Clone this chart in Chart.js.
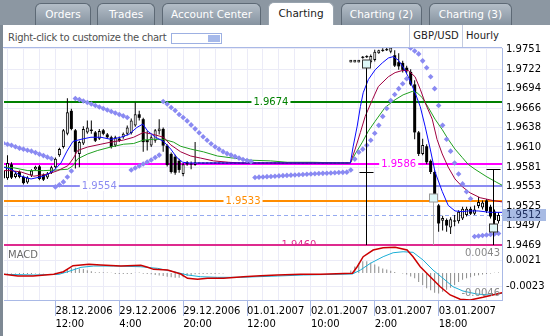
<!DOCTYPE html>
<html>
<head>
<meta charset="utf-8">
<title>GBP/USD Hourly</title>
<script src="https://cdn.jsdelivr.net/npm/chart.js@4.4.1/dist/chart.umd.min.js"></script>
<style>
  html, body { margin: 0; padding: 0; }
  body { width: 550px; height: 336px; position: relative; overflow: hidden; background: #fff;
         font-family: "DejaVu Sans", sans-serif; font-size: 10px; }
  #tabs { position: absolute; left: 0; top: 0; width: 550px; height: 25px; background: #8c97a2; }
  .tab { position: absolute; top: 3px; height: 22px; box-sizing: border-box; border: 1px solid #5d6975;
         border-bottom: none; border-radius: 6px 6px 0 0; background: linear-gradient(#b3bdc7, #8693a0);
         color: #fff; text-align: center; line-height: 21px; font-size: 10.5px; }
  .tab.on { top: 2px; height: 24px; background: #fff; color: #1a1a1a; border-color: #98a3ae; }
  #frame { position: absolute; left: 0; top: 25px; width: 3px; height: 311px; background: #7e8994; z-index: 3; }
  #tool { position: absolute; left: 3px; top: 25px; width: 499px; height: 23px; box-sizing: border-box;
          border-bottom: 1px solid #aab9e6; background: #fff; z-index: 2; }
  #hint { position: absolute; left: 5px; top: 7px; color: #505050; letter-spacing: -0.3px; }
  #swatch { position: absolute; left: 168px; top: 8px; width: 51px; height: 11px; box-sizing: border-box;
            border: 1px solid #9db0e2; background: #fff; }
  #swatch div { position: absolute; right: 1px; top: 1px; width: 12px; height: 7px; background: #a6b9ea; }
  .cell { position: absolute; top: 0; height: 22px; box-sizing: border-box; border-left: 1px solid #c4cce0;
          line-height: 22px; text-align: center; color: #222; }
  canvas { position: absolute; left: 0; top: 25px; }
</style>
</head>
<body>
<div id="tabs">
  <div class="tab" style="left:35px;width:56px">Orders</div>
  <div class="tab" style="left:97px;width:58px">Trades</div>
  <div class="tab" style="left:162px;width:99px">Account Center</div>
  <div class="tab on" style="left:268px;width:66px">Charting</div>
  <div class="tab" style="left:341px;width:81px">Charting (2)</div>
  <div class="tab" style="left:429px;width:83px">Charting (3)</div>
</div>
<div id="frame"></div>
<div id="tool">
  <span id="hint">Right-click to customize the chart</span>
  <div id="swatch"><div></div></div>
  <div class="cell" style="left:406px;width:53px">GBP/USD</div>
  <div class="cell" style="left:459px;width:40px">Hourly</div>
</div>
<canvas id="chart" width="550" height="311"></canvas>
<script>
// hourly candles (bar index 0..124)
const opens = [
  1.9576,1.9565,1.9585,1.9567,1.9574,1.9567,1.9559,1.9569,1.9578,1.9582,
  1.9570,1.9566,1.9573,1.9581,1.9598,1.9610,1.9629,1.9662,1.9634,1.9600,
  1.9615,1.9631,1.9635,1.9631,1.9622,1.9634,1.9628,1.9624,1.9612,1.9622,
  1.9624,1.9629,1.9630,1.9641,1.9657,1.9650,1.9620,1.9612,1.9619,1.9633,
  1.9636,1.9612,1.9600,1.9596,1.9590,1.9571,1.9588,1.9586,1.9585,
  1.9587,1.9587,1.9587,1.9587,1.9587,1.9587,1.9587,1.9587,1.9587,1.9587,
  1.9587,1.9587,1.9587,1.9587,1.9587,1.9587,1.9587,1.9587,1.9587,1.9587,
  1.9587,1.9587,1.9587,1.9587,1.9587,1.9587,1.9587,1.9587,1.9587,1.9587,
  1.9587,1.9587,1.9587,1.9587,1.9587,1.9587,1.9587,1.9587,
  1.9733,1.9733,1.9733,1.9739,1.9740,1.9732,1.9735,1.9746,1.9749,1.9750,
  1.9747,1.9742,1.9732,1.9731,1.9724,1.9718,1.9700,1.9631,1.9600,1.9611,
  1.9590,1.9574,1.9526,1.9504,1.9505,1.9494,1.9504,1.9503,1.9507,1.9512,
  1.9521,1.9514,1.9525,1.9523,1.9533,1.9524,1.9517,1.9503
];
const highs = [
  1.9578,1.9598,1.9588,1.9575,1.9576,1.9569,1.9568,1.9578,1.9583,1.9584,
  1.9572,1.9574,1.9583,1.9595,1.9609,1.9636,1.9680,1.9665,1.9636,1.9619,
  1.9640,1.9648,1.9648,1.9633,1.9636,1.9636,1.9630,1.9626,1.9626,1.9625,
  1.9631,1.9641,1.9651,1.9674,1.9662,1.9652,1.9633,1.9627,1.9636,1.9650,
  1.9638,1.9614,1.9602,1.9599,1.9593,1.9587,1.9590,1.9589,1.9617,
  1.9587,1.9587,1.9587,1.9587,1.9587,1.9587,1.9587,1.9587,1.9587,1.9587,
  1.9587,1.9587,1.9587,1.9587,1.9587,1.9587,1.9587,1.9587,1.9587,1.9587,
  1.9587,1.9587,1.9587,1.9587,1.9587,1.9587,1.9587,1.9587,1.9587,1.9587,
  1.9587,1.9587,1.9587,1.9587,1.9587,1.9587,1.9587,1.9587,
  1.9735,1.9735,1.9735,1.9741,1.9742,1.9743,1.9750,1.9750,1.9752,1.9753,
  1.9756,1.9749,1.9745,1.9734,1.9727,1.9722,1.9706,1.9633,1.9622,1.9614,
  1.9592,1.9576,1.9528,1.9511,1.9507,1.9509,1.9512,1.9519,1.9524,1.9524,
  1.9524,1.9526,1.9538,1.9533,1.9535,1.9527,1.9520,1.9516
];
const lows = [
  1.9563,1.9563,1.9564,1.9565,1.9565,1.9556,1.9557,1.9567,1.9576,1.9562,
  1.9561,1.9564,1.9571,1.9579,1.9596,1.9608,1.9627,1.9634,1.9579,1.9581,
  1.9613,1.9629,1.9629,1.9617,1.9620,1.9627,1.9622,1.9608,1.9610,1.9617,
  1.9622,1.9627,1.9628,1.9639,1.9648,1.9603,1.9605,1.9610,1.9616,1.9628,
  1.9603,1.9582,1.9572,1.9570,1.9573,1.9568,1.9583,1.9578,1.9583,
  1.9587,1.9587,1.9587,1.9587,1.9587,1.9587,1.9587,1.9587,1.9587,1.9587,
  1.9587,1.9587,1.9587,1.9587,1.9587,1.9587,1.9587,1.9587,1.9587,1.9587,
  1.9587,1.9587,1.9587,1.9587,1.9587,1.9587,1.9587,1.9587,1.9587,1.9587,
  1.9587,1.9587,1.9587,1.9587,1.9587,1.9587,1.9587,1.9587,
  1.9732,1.9732,1.9732,1.9737,1.9738,1.9730,1.9733,1.9744,1.9747,1.9748,
  1.9745,1.9725,1.9721,1.9717,1.9716,1.9698,1.9621,1.9597,1.9598,1.9585,
  1.9571,1.9538,1.9488,1.9490,1.9488,1.9485,1.9496,1.9500,1.9505,1.9510,
  1.9512,1.9512,1.9522,1.9520,1.9515,1.9507,1.9498,1.9500
];
const closes = [
  1.9565,1.9587,1.9566,1.9572,1.9567,1.9558,1.9566,1.9576,1.9581,1.9564,
  1.9563,1.9572,1.9581,1.9593,1.9607,1.9634,1.9660,1.9636,1.9603,1.9617,
  1.9636,1.9638,1.9633,1.9619,1.9633,1.9629,1.9624,1.9610,1.9624,1.9619,
  1.9629,1.9638,1.9648,1.9657,1.9652,1.9617,1.9617,1.9624,1.9634,1.9636,
  1.9612,1.9584,1.9574,1.9573,1.9577,1.9585,1.9585,1.9585,1.9587,
  1.9587,1.9587,1.9587,1.9587,1.9587,1.9587,1.9587,1.9587,1.9587,1.9587,
  1.9587,1.9587,1.9587,1.9587,1.9587,1.9587,1.9587,1.9587,1.9587,1.9587,
  1.9587,1.9587,1.9587,1.9587,1.9587,1.9587,1.9587,1.9587,1.9587,1.9587,
  1.9587,1.9587,1.9587,1.9587,1.9587,1.9587,1.9587,1.9587,
  1.9734,1.9734,1.9734,1.9739,1.9740,1.9741,1.9747,1.9748,1.9749,1.9750,
  1.9753,1.9727,1.9726,1.9721,1.9719,1.9700,1.9631,1.9600,1.9613,1.9588,
  1.9574,1.9540,1.9500,1.9508,1.9497,1.9506,1.9503,1.9517,1.9521,1.9521,
  1.9514,1.9520,1.9531,1.9530,1.9518,1.9510,1.9505,1.9512
];

// parabolic SAR, one dot per bar
const sar = [
  1.96154,1.96140,1.96126,1.96104,1.96083,1.96069,1.96054,1.96040,1.96019,1.95997,1.95976,1.95954,1.95933,
  1.95526,1.95555,1.95598,1.95669,1.95755,
  1.96797,1.96782,1.96761,1.96739,1.96718,1.96697,1.96675,1.96654,1.96632,1.96611,1.96590,1.96568,1.96547,1.96525,
  1.95769,1.95798,1.95826,1.95855,1.95883,1.95912,1.95948,1.95983,
  1.96754,1.96718,1.96668,1.96625,1.96568,1.96525,1.96475,1.96418,1.96361,1.96304,1.96247,1.96197,
  1.96147,1.96104,1.96069,1.96033,1.96005,1.95983,1.95962,1.95940,1.95919,1.95905,1.95890,
  1.95662,1.95666,1.95669,1.95673,1.95676,1.95680,1.95684,1.95688,1.95691,1.95695,1.95698,1.95701,
  1.95705,1.95708,1.95712,1.95715,1.95718,1.95721,1.95723,1.95726,1.95729,1.95732,1.95735,1.95738,
  1.95769,1.95926,1.96026,1.96069,1.96126,1.96197,1.96297,1.96411,1.96540,1.96654,1.96768,1.96854,
  1.96939,1.97010,1.97082,
  1.97524,1.97481,1.97439,1.97339,1.97239,1.97110,1.96939,1.96697,1.96411,1.96211,1.96040,1.95869,
  1.95712,1.95569,1.95455,1.95355,
  1.94813,1.94820,1.94827,1.94834,1.94841,1.94848,1.94856
];

// moving averages, [bar, price] read at the bends
const fastMA = [[0,1.9581],[1.9,1.9578],[4.4,1.9568],[6.9,1.9564],[10.1,1.9568],[12.6,1.9576],[14.4,1.9587],
  [15.9,1.9604],[17.4,1.9618],[19.4,1.9621],[21.9,1.9624],[24.4,1.9624],[26.9,1.9621],[29.4,1.9624],
  [31.4,1.9628],[33.4,1.9638],[34.9,1.9643],[36.1,1.9633],[38.1,1.9624],[40.1,1.9618],[41.9,1.9607],
  [43.4,1.9595],[44.9,1.9588],[46.4,1.9587],[86.9,1.9587],[87.6,1.9611],[88.6,1.9640],[89.4,1.9668],
  [90.1,1.9688],[91.4,1.9707],[93.1,1.9721],[94.9,1.9731],[96.4,1.9738],[97.6,1.9740],[98.9,1.9735],
  [100.1,1.9725],[101.4,1.9711],[103.1,1.9688],[104.4,1.9668],[105.6,1.9640],[106.9,1.9607],[108.1,1.9574],
  [109.9,1.9546],[111.4,1.9526],[113.1,1.9518],[114.9,1.9517],[116.4,1.9518],[118.9,1.9518],[121.9,1.9516],
  [124.9,1.9516]];
const midMA = [[0,1.9576],[1.9,1.9576],[4.4,1.9574],[7.6,1.9568],[11.1,1.9571],[13.6,1.9576],[16.1,1.9583],
  [17.4,1.9593],[18.6,1.9605],[21.1,1.9610],[24.4,1.9614],[26.9,1.9617],[30.1,1.9620],[32.6,1.9624],
  [35.1,1.9631],[37.6,1.9628],[40.1,1.9624],[41.9,1.9613],[44.4,1.9603],[46.9,1.9597],[49.4,1.9594],
  [52.6,1.9590],[56.4,1.9588],[59.4,1.9587],[86.9,1.9587],[88.1,1.9607],[89.4,1.9631],[90.6,1.9654],
  [92.4,1.9678],[93.9,1.9697],[96.4,1.9711],[98.1,1.9717],[99.9,1.9720],[101.4,1.9720],[103.1,1.9711],
  [104.4,1.9693],[105.6,1.9674],[107.4,1.9650],[108.6,1.9621],[109.9,1.9600],[111.4,1.9581],[113.1,1.9564],
  [114.9,1.9553],[116.9,1.9544],[119.4,1.9537],[122.6,1.9533],[124.9,1.9531]];
const slowMA = [[0,1.9581],[2.6,1.9580],[6.1,1.9576],[10.1,1.9576],[13.6,1.9577],[16.1,1.9578],[17.4,1.9583],
  [18.6,1.9593],[21.1,1.9600],[23.6,1.9605],[26.9,1.9610],[30.1,1.9614],[32.6,1.9615],[35.1,1.9620],
  [37.6,1.9621],[40.1,1.9621],[42.6,1.9617],[44.4,1.9611],[46.9,1.9607],[50.1,1.9603],[53.6,1.9597],
  [57.6,1.9594],[61.9,1.9591],[66.9,1.9590],[71.1,1.9588],[77.6,1.9588],[84.4,1.9587],[86.9,1.9587],
  [88.1,1.9600],[89.9,1.9617],[91.4,1.9633],[93.1,1.9647],[95.6,1.9667],[98.1,1.9678],[100.1,1.9685],
  [102.4,1.9690],[103.6,1.9688],[104.9,1.9681],[106.4,1.9667],[108.1,1.9650],[109.9,1.9635],[111.4,1.9621],
  [113.1,1.9607],[114.9,1.9595],[116.4,1.9585],[118.1,1.9578],[121.1,1.9567],[123.6,1.9559],[124.9,1.9555]];

// MACD pane
const macdLine = [[0,-0.0002],[3.6,-0.0005],[7.4,-0.0005],[12.6,-0.0002],[15,0.00024],[17.4,0.00125],
  [19.4,0.00137],[21.4,0.00149],[24.4,0.00137],[29.4,0.0012],[34.4,0.00132],[36.1,0.00098],[37.6,0.00064],
  [41.1,0.00052],[44.4,-0.00015],[46.1,-0.00088],[48.6,-0.00105],[51.1,-0.00088],[55.1,-0.00088],
  [60.1,-0.00061],[64.4,-0.00044],[68.6,-0.00032],[74.4,-0.0002],[79.4,-0.0002],[87.4,-0.00003],
  [88.6,0.00108],[90.1,0.00278],[92.6,0.00391],[95.1,0.0043],[98.1,0.00437],[101.1,0.00391],[102.6,0.00278],
  [104.4,0.00108],[106.9,-0.00061],[109.4,-0.0023],[111.9,-0.0037],[114.4,-0.00443],[116.9,-0.00455],
  [120.1,-0.0041],[123.6,-0.00354],[124.9,-0.00332]];
const signalLine = [[0,-0.0002],[7.6,-0.00032],[13.9,-0.0002],[16.1,0.00024],[19.4,0.00098],[22.6,0.0012],
  [27.6,0.0012],[34.4,0.00108],[38.6,0.00081],[42.6,0.00024],[46.1,-0.00032],[49.4,-0.00061],[53.6,-0.00071],
  [59.4,-0.00071],[68.6,-0.00049],[75.1,-0.00032],[87.4,-0.00015],[89.4,0.00052],[91.9,0.00166],[95.1,0.00278],
  [97.6,0.00345],[100.1,0.00362],[102.6,0.00352],[105.1,0.00222],[107.6,0.00052],[110.1,-0.00088],
  [112.6,-0.0023],[115.1,-0.00303],[118.6,-0.00354],[121.9,-0.00371],[124.9,-0.00342]];
const macdHist = [
  -0.00005,-0.00005,-0.00005,-0.00005,-0.00015,-0.00015,-0.00015,-0.00015,-0.00005,-0.00005,-0.00003,0,0.00003,
  0.00005,0.0001,0.0003,0.0007,0.0009,0.0009,0.0008,0.0007,0.0005,0.0003,0.00015,
  0.00015,0.00015,0.0001,0.00005,-0.00015,-0.00015,-0.00015,-0.00015,-0.00015,0.00005,0.0001,
  -0.0001,-0.00015,-0.0002,-0.0003,-0.0004,-0.0005,-0.0006,-0.0007,-0.0008,-0.0008,-0.0007,-0.0005,-0.0003,
  -0.0002,-0.00015,-0.00015,
  -0.00015,-0.00015,-0.00015,-0.0001,-0.00005,0,0,0,0,0,0,0,0,0,0,0,0,0,0,0,0,0,0,0,0,0,0,0,0,0,0,0,0,0,0,0,
  0.00045,0.00113,0.00169,0.00203,0.00203,0.00175,0.00147,0.00113,0.00079,0.00062,0.00039,0.00017,0.00002,
  -0.00006,-0.00023,-0.00056,-0.00085,-0.00152,-0.00203,-0.00254,-0.00288,-0.00333,-0.00344,-0.00316,-0.00282,
  -0.00248,-0.00203,-0.00152,-0.00113,-0.00085,-0.00068,-0.00045,-0.00034,-0.00023,-0.00017,-0.00006,0.00006,0.00011
];

const priceTicks = [1.9751,1.9722,1.9694,1.9666,1.9638,1.9610,1.9581,1.9553,1.9525,1.9497,1.9469];
const macdTicks = [0.0021,-0.0023];
const macdHigh = 0.0043, macdLow = -0.0046;
const timeBars = [13,29,45,61,77,93,109];
const timeDates = ['28.12.2006','29.12.2006','29.12.2006','01.01.2007','02.01.2007','03.01.2007','03.01.2007'];
const timeHours = ['12:00','4:00','20:00','12:00','10:00','2:00','18:00'];
const levels = [1.9674,1.9586,1.9554,1.9533,1.9512,1.9460];
const lastPrice = 1.9512;
const markerBars = [90.8,107.7,122.7];
const markerTops = [1.9729,1.9537,1.9578];
const markerBoxes = [1.9729,1.9537,1.9493];
const markerTicks = [1.9574,null,1.9578];

// styles
const FONT = '10px "DejaVu Sans"';
const levelStyle = [
  {color:'#008000', width:2, label:67},
  {color:'#ff00ff', width:2, label:99},
  {color:'#8c8cf2', width:2, label:24},
  {color:'#ff8c00', width:2, label:60},
  {color:'#95aaf0', width:1, dash:[4,3], label:null},
  {color:'#de2a8e', width:2, label:74}
];
const markerColor = ['#000000','#aaaaaa','#000000'];

const bodyData = closes.map((c, i) => {
  const o = opens[i];
  let lo = Math.min(o, c), hi = Math.max(o, c);
  const m = (lo + hi) / 2;
  if (c > o && hi - lo < 0.0004) { lo = m - 0.0002; hi = m + 0.0002; }
  if (c <= o && hi - lo < 0.00015) { lo = m - 0.000075; hi = m + 0.000075; }
  return {x: i, y: [lo, hi]};
});
const wickData = closes.map((c, i) => ({x: i, y: [lows[i], highs[i]]}));
const pairs = arr => arr.map(p => ({x: p[0], y: p[1]}));

const overlay = {
  id: 'overlay',
  beforeDatasetsDraw(chart) {
    const {ctx, chartArea: a, scales: {x, y}} = chart;
    ctx.save();
    const rows = levels.map(v => Math.round(Math.min(y.getPixelForValue(v), y.bottom)));
    levels.forEach((v, k) => {
      const st = levelStyle[k];
      const py = st.width === 1 ? rows[k] + 0.5 : rows[k];
      ctx.strokeStyle = st.color; ctx.lineWidth = st.width; ctx.setLineDash(st.dash || []);
      ctx.beginPath(); ctx.moveTo(a.left, py); ctx.lineTo(a.right, py); ctx.stroke();
    });
    ctx.setLineDash([]);
    ctx.beginPath(); ctx.rect(a.left, y.top, a.right - a.left, y.bottom - y.top - 1); ctx.clip();
    ctx.font = FONT; ctx.textAlign = 'center'; ctx.textBaseline = 'middle';
    levels.forEach((v, k) => {
      const st = levelStyle[k];
      if (st.label === null) return;
      const txt = v.toFixed(4);
      const px = x.getPixelForValue(st.label);
      const w = ctx.measureText(txt).width + 4;
      ctx.fillStyle = '#fff'; ctx.fillRect(px - w / 2, rows[k] - 5, w, 10);
      ctx.fillStyle = st.color; ctx.fillText(txt, px, rows[k]);
    });
    ctx.restore();
  },
  afterDatasetsDraw(chart) {
    const {ctx, scales: {x, y}} = chart;
    ctx.save();
    markerBars.forEach((b, k) => {
      const px = Math.round(x.getPixelForValue(b)) + 0.5;
      ctx.strokeStyle = markerColor[k]; ctx.lineWidth = 1;
      ctx.beginPath(); ctx.moveTo(px, y.getPixelForValue(markerTops[k])); ctx.lineTo(px, y.bottom); ctx.stroke();
      if (markerTicks[k] !== null) {
        const ty = Math.round(y.getPixelForValue(markerTicks[k])) + 0.5;
        ctx.beginPath(); ctx.moveTo(px - 7, ty); ctx.lineTo(px + 7, ty); ctx.stroke();
      }
      const by = Math.round(y.getPixelForValue(markerBoxes[k]));
      ctx.fillStyle = '#def7f7'; ctx.fillRect(px - 4, by - 4, 8, 8);
      ctx.strokeStyle = k === 1 ? '#9a9a9a' : '#333'; ctx.strokeRect(px - 4, by - 4, 8, 8);
    });
    ctx.restore();
  },
  afterDraw(chart) {
    const {ctx, chartArea: a, scales: {y, ym}} = chart;
    ctx.save();
    ctx.font = FONT; ctx.textBaseline = 'middle';
    const py = Math.round(y.getPixelForValue(lastPrice));
    ctx.fillStyle = '#a8bbe4'; ctx.fillRect(a.right + 1, py - 6, 43, 12);
    ctx.fillStyle = '#203060'; ctx.textAlign = 'left'; ctx.fillText(lastPrice.toFixed(4), a.right + 4, py);
    ctx.fillStyle = '#6a6a6a'; ctx.fillText('MACD', a.left + 4, ym.top + 10);
    ctx.fillStyle = '#888'; ctx.textAlign = 'right';
    ctx.fillText(macdHigh.toFixed(4), a.right - 2, ym.getPixelForValue(macdHigh) + 6);
    ctx.fillText(macdLow.toFixed(4), a.right - 2, ym.getPixelForValue(macdLow) - 7);
    ctx.restore();
  }
};

const axisFont = {family: 'DejaVu Sans', size: 10, lineHeight: 1.3};

new Chart(document.getElementById('chart'), {
  type: 'bar',
  data: {
    datasets: [
      {type: 'scatter', data: sar.map((v, i) => ({x: i, y: v})), pointStyle: 'rectRot', pointRadius: 2.8,
       backgroundColor: '#8a8af2', borderWidth: 0, order: 0},
      {type: 'line', data: pairs(fastMA), borderColor: '#0a0aff', borderWidth: 1, pointRadius: 0, order: 1},
      {type: 'line', data: pairs(midMA), borderColor: '#a00040', borderWidth: 1, pointRadius: 0, order: 2},
      {type: 'line', data: pairs(slowMA), borderColor: '#20a020', borderWidth: 1, pointRadius: 0, order: 3},
      {data: bodyData, barThickness: 3, grouped: false, inflateAmount: 0, borderSkipped: false,
       backgroundColor: c => closes[c.dataIndex] > opens[c.dataIndex] ? '#ffffff' : '#000000',
       borderColor: '#000', borderWidth: c => closes[c.dataIndex] > opens[c.dataIndex] ? 1 : 0, order: 4},
      {data: wickData, barThickness: 1, grouped: false, inflateAmount: 0, backgroundColor: '#000',
       borderWidth: 0, order: 5},
      {type: 'line', data: pairs(macdLine), yAxisID: 'ym', borderColor: '#cc0000', borderWidth: 1.5,
       pointRadius: 0, order: 6},
      {type: 'line', data: pairs(signalLine), yAxisID: 'ym', borderColor: '#1aaed6', borderWidth: 1,
       pointRadius: 0, order: 7},
      {data: macdHist.map((v, i) => ({x: i, y: v})), yAxisID: 'ym', barThickness: 1, grouped: false,
       inflateAmount: 0, backgroundColor: '#8c8c8c', borderWidth: 0, order: 8}
    ]
  },
  options: {
    responsive: false, animation: false, devicePixelRatio: 1,
    layout: {padding: {left: 3, top: 23, right: 0, bottom: 0}},
    plugins: {legend: {display: false}, tooltip: {enabled: false}},
    scales: {
      x: {
        type: 'linear', min: 0.125, max: 124.875, offset: false,
        afterBuildTicks: s => { const t = []; for (let i = 1; i <= 121; i += 4) t.push({value: i}); s.ticks = t; },
        afterFit: s => { s.height = 36; },
        grid: {offset: false, color: '#ebebf7', tickLength: 16,
               tickColor: c => (c.tick && timeBars.includes(c.tick.value)) ? '#a9b9e6' : 'rgba(0,0,0,0)'},
        border: {color: '#a9b9e6'},
        ticks: {autoSkip: false, maxRotation: 0, align: 'start', padding: -11, color: '#000', font: axisFont,
                callback: v => { const k = timeBars.indexOf(v); return k < 0 ? '' : [timeDates[k], timeHours[k]]; }}
      },
      y: {
        type: 'linear', position: 'right', stack: 'panes', stackWeight: 197, min: 1.9469, max: 1.97524,
        afterBuildTicks: s => { s.ticks = priceTicks.map(v => ({value: v})); },
        afterFit: s => { s.width = 48; },
        grid: {color: '#ebebf7', drawTicks: false},
        border: {color: '#a9b9e6'},
        ticks: {autoSkip: false, padding: 4, color: '#000', font: axisFont, callback: v => v.toFixed(4)}
      },
      ym: {
        type: 'linear', position: 'right', stack: 'panes', stackWeight: 55, min: -0.00455, max: 0.00476,
        afterBuildTicks: s => { s.ticks = macdTicks.map(v => ({value: v})); },
        afterFit: s => { s.width = 48; },
        grid: {color: '#ebebf7', drawTicks: false},
        border: {color: '#a9b9e6'},
        ticks: {autoSkip: false, padding: 4, color: '#000', font: axisFont, callback: v => v.toFixed(4)}
      }
    }
  },
  plugins: [overlay]
});
</script>
</body>
</html>
